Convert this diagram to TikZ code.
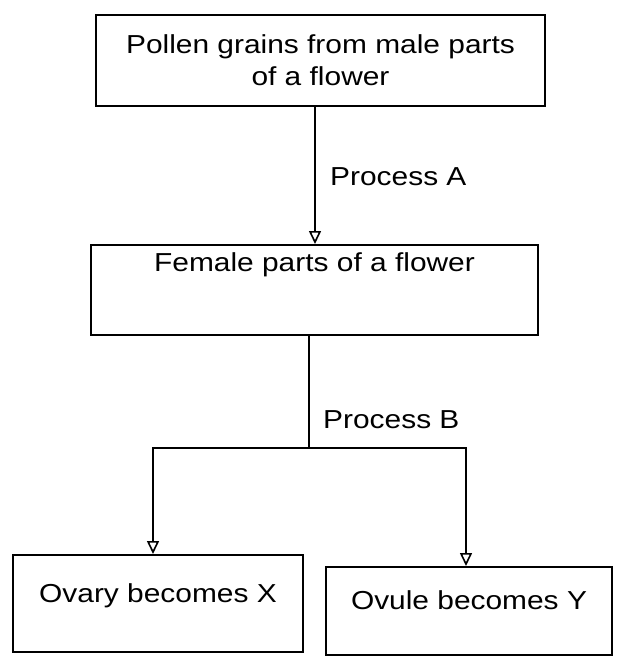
\documentclass[tikz,border=0pt]{standalone}
\usepackage{fontspec}
\setmainfont[FakeStretch=1.15]{Liberation Sans}
\usetikzlibrary{arrows.meta}
\begin{document}
\begin{tikzpicture}[x=1pt,y=-1pt,
  txt/.style={font=\fontsize{26}{32}\selectfont},
  box/.style={draw, line width=1.6pt, rectangle, inner sep=0pt, align=center, txt},
  lbl/.style={inner sep=0pt, anchor=base west, txt},
  conn/.style={line width=1.6pt},
  arr/.style={conn, -{Triangle[open, length=13pt, width=12pt, line width=1.6pt]}}
]
\useasboundingbox (0,0) rectangle (617,659);

\node[box, minimum width=449pt, minimum height=91pt] (top) at (320.5,60.5)
  {Pollen grains from male parts\\of a flower};
\node[box, anchor=north, minimum width=447pt, text height=27pt, text depth=63pt] (mid) at (314.5,244)
  {Female parts of a flower};
\node[box, anchor=north, minimum width=290pt, text height=48pt, text depth=49pt] (ovary) at (158,554)
  {Ovary becomes X};
\node[box, anchor=north, minimum width=286pt, text height=43pt, text depth=45pt] (ovule) at (469,566)
  {Ovule becomes Y};

\coordinate (aX) at (315,0);
\coordinate (bX) at (309,0);
\coordinate (lX) at (153,0);
\coordinate (rX) at (466,0);
\coordinate (br) at (309,448);

\draw[arr] (top.south -| aX) -- (mid.north -| aX);
\node[lbl] (pa) at (330,185) {Process A};

\draw[conn] (mid.south -| bX) -- (br);
\node[lbl] (pb) at (323,428) {Process B};
\draw[arr] (br) -| (ovary.north -| lX);
\draw[arr] (br) -| (ovule.north -| rX);
\end{tikzpicture}
\end{document}
